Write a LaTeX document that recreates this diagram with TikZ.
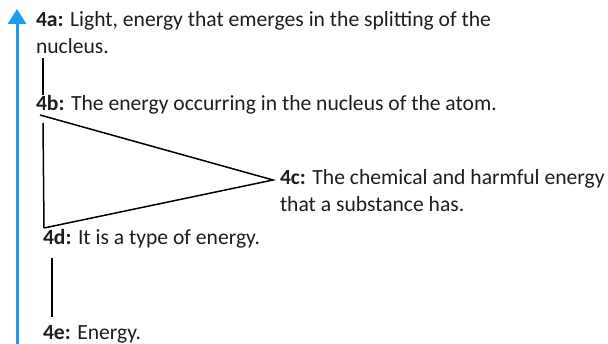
\documentclass[tikz,border=0pt]{standalone}
\usepackage{fontspec}
\setmainfont{Carlito}
\usetikzlibrary{arrows.meta}
\definecolor{skyblue}{RGB}{28,156,240}
\definecolor{txt}{RGB}{30,30,30}
\begin{document}
\begin{tikzpicture}[x=1pt,y=-1pt,
  lbl/.style={anchor=base west,inner sep=0pt,outer sep=0pt,align=left,text=txt,
    font=\fontsize{21.6}{27}\selectfont},
  conn/.style={line width=1.5pt,black},
  axis/.style={line width=3pt,skyblue,-{Triangle[length=15pt,width=18pt]}}]
\useasboundingbox (0,0) rectangle (608,344);
\fill[white] (0,0) rectangle (608,344);
\coordinate (bot) at (17,344);
\coordinate (top) at (17,9);
\draw[axis] (bot) -- (top);
\node[lbl] (a) at (36,54) {\textbf{4a:} Light, energy that emerges in the splitting of the\\nucleus.};
\node[lbl] (b) at (36,111) {\textbf{4b:} The energy occurring in the nucleus of the atom.};
\node[lbl] (c) at (280,212) {\textbf{4c:} The chemical and harmful energy\\that a substance has.};
\node[lbl] (d) at (43,245) {\textbf{4d:} It is a type of energy.};
\node[lbl] (e) at (43,340) {\textbf{4e:} Energy.};
\coordinate (ab1) at (43,58);
\coordinate (ab2) at (43,95);
\coordinate (tl) at (40,115);
\coordinate (tv) at (43,123);
\coordinate (tip) at (273,180);
\coordinate (bl) at (44,228);
\coordinate (de1) at (52,258);
\coordinate (de2) at (52,317);
\draw[conn] (ab1) -- (ab2);
\draw[conn] (tl) -- (tip) -- (bl);
\draw[conn] (tv) -- (bl);
\draw[conn] (de1) -- (de2);
\end{tikzpicture}
\end{document}
